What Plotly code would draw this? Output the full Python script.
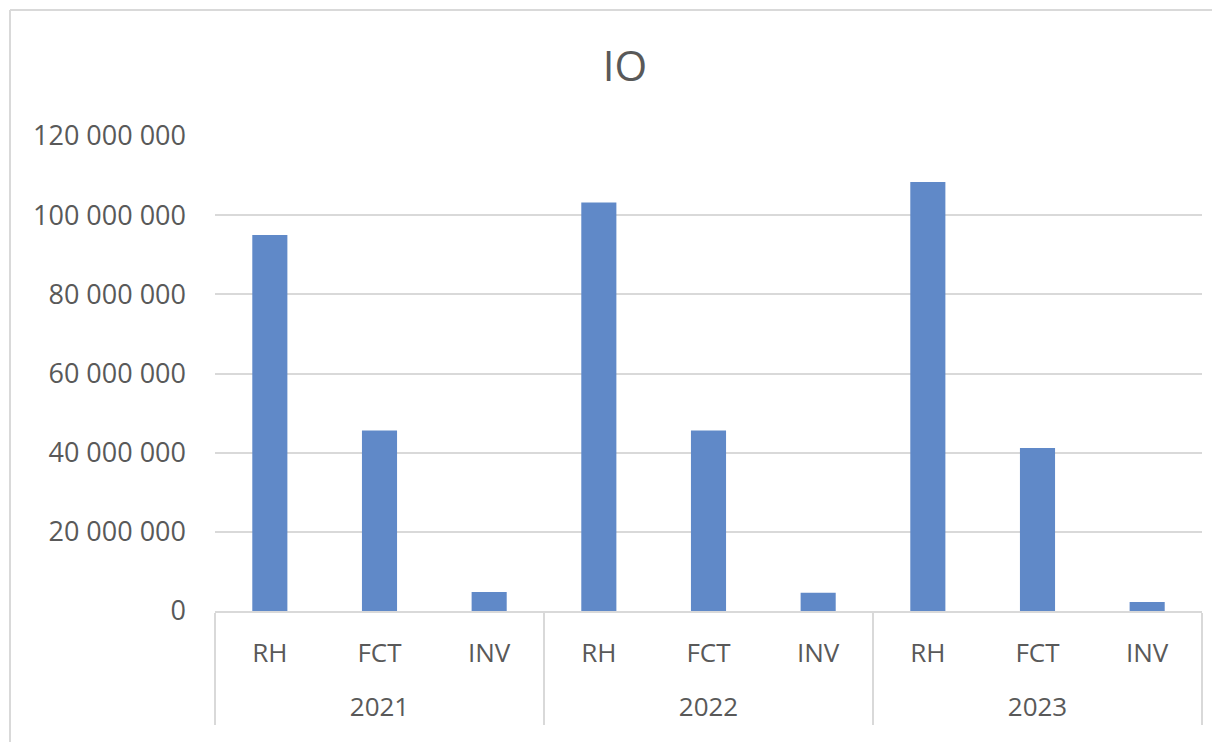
import plotly.graph_objects as go

years = ["2021", "2021", "2021", "2022", "2022", "2022", "2023", "2023", "2023"]
categories = ["RH", "FCT", "INV", "RH", "FCT", "INV", "RH", "FCT", "INV"]
values = [95_000_000, 45_600_000, 4_800_000,
          103_200_000, 45_600_000, 4_600_000,
          108_400_000, 41_200_000, 2_300_000]
y_ticks = [0, 20_000_000, 40_000_000, 60_000_000, 80_000_000, 100_000_000, 120_000_000]
y_tick_labels = ["{:,}".format(v).replace(",", " ") for v in y_ticks]

TEXT = "#595959"
GRID = "#D9D9D9"
FONT = "Open Sans"

# the page has an 8px body margin; work in screen pixels and convert
OFF = 8
W, H = 1220 - OFF, 742 - OFF
L, T = 215 - OFF, 136 - OFF
R = W - L - 987
B = H - T - 475
pw, ph = W - L - R, H - T - B

def px_x(p):
    return (p - OFF - L) / pw

def px_y(p):
    return (H - B - (p - OFF)) / ph

year_labels = ["<br>" + y for y in years]

fig = go.Figure()
fig.add_trace(go.Bar(
    x=[year_labels, categories],
    y=values,
    marker=dict(color="#6089C8", line=dict(width=0)),
    width=0.32,
    hoverinfo="y",
))

# outer chart border (top and left edges visible)
fig.add_shape(type="line", xref="paper", yref="paper",
              x0=px_x(10), x1=px_x(1260), y0=px_y(10), y1=px_y(10),
              line=dict(color=GRID, width=2), layer="below")
fig.add_shape(type="line", xref="paper", yref="paper",
              x0=px_x(10), x1=px_x(10), y0=px_y(10), y1=px_y(780),
              line=dict(color=GRID, width=2), layer="below")

fig.update_layout(
    width=W, height=H,
    margin=dict(l=L, r=R, t=T, b=B, autoexpand=False),
    paper_bgcolor="white", plot_bgcolor="white",
    font=dict(family=FONT, color=TEXT, size=26),
    title=dict(text="IO", x=(625 - OFF) / W, xanchor="center", xref="container",
               y=1 - (66 - OFF) / H, yanchor="middle",
               font=dict(size=42, color=TEXT, family=FONT)),
    bargap=0.68,
    showlegend=False,
)
fig.update_xaxes(
    type="multicategory",
    showline=True, linecolor=GRID, linewidth=2,
    showdividers=True, dividercolor=GRID, dividerwidth=2,
    tickfont=dict(size=26, color=TEXT, family=FONT),
    ticks="", showgrid=False, ticklabelstandoff=18,
)
fig.update_yaxes(
    range=[0, 120_000_000],
    tickvals=y_ticks, ticktext=y_tick_labels,
    showgrid=True, gridcolor=GRID, gridwidth=2,
    zeroline=False, showline=False,
    ticks="", ticklabelstandoff=28,
    tickfont=dict(size=27, color=TEXT, family=FONT),
)

fig.write_html("out.html")
